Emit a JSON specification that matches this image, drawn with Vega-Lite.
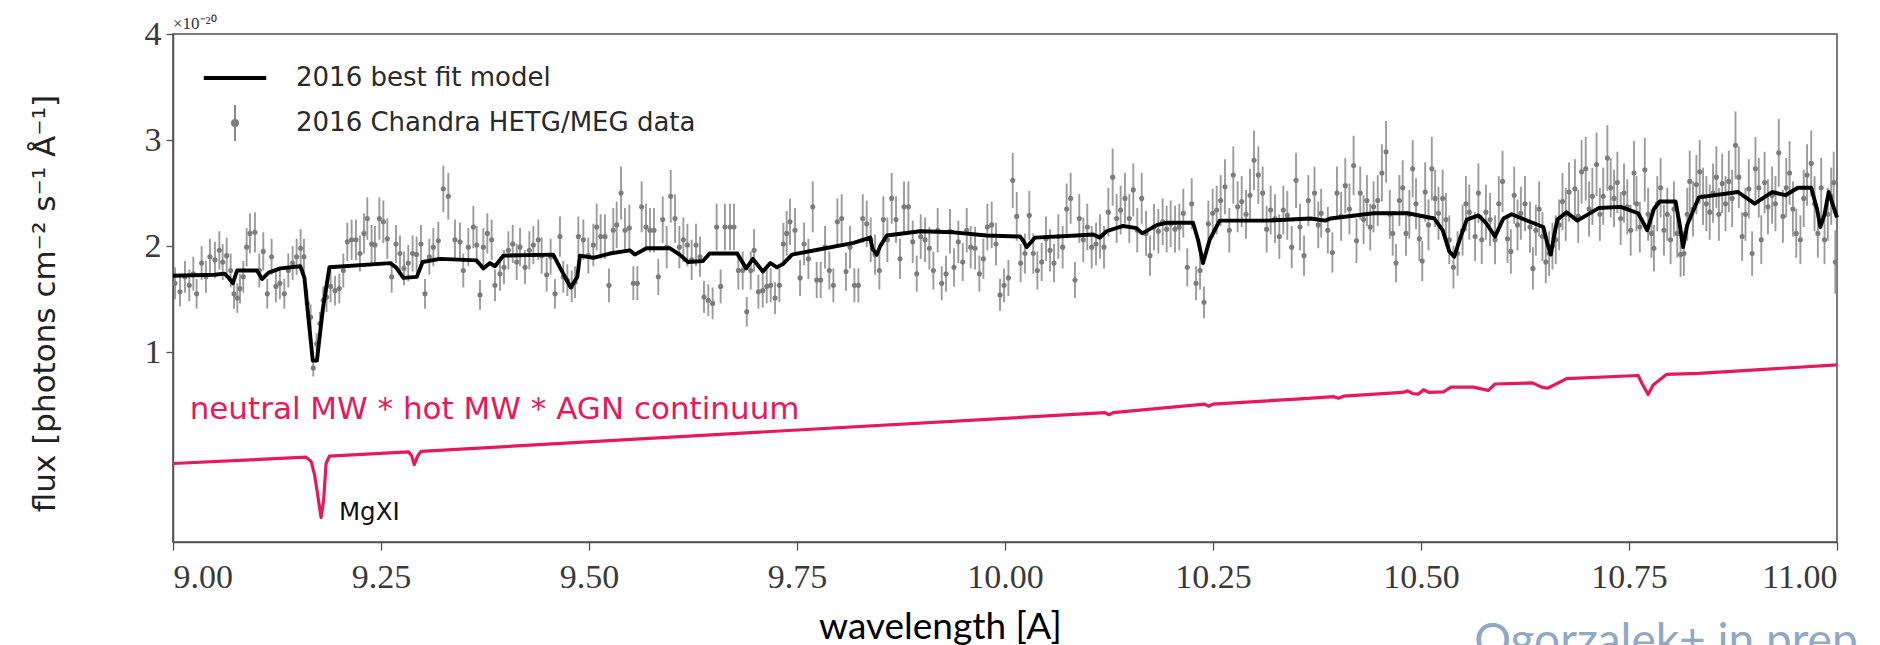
{
"$schema":"https://vega.github.io/schema/vega-lite/v6.json",
"width":1664,"height":508,
"autosize":{"type":"none"},
"padding":{"left":173,"top":34,"right":43,"bottom":103},
"background":"white",
"config":{"view":{"stroke":"#505050","strokeWidth":1.5},"font":"DejaVu Sans",
"axis":{"grid":false,"domainColor":"#505050","domainWidth":1.5,"tickColor":"#505050","tickWidth":1.3,"labelFont":"Liberation Serif","labelFontSize":34,"labelColor":"#3a3a3a","titleFontWeight":"normal","titleColor":"#111"}},
"datasets":{
"pts":[
{"w":9.0024,"f":1.65,"e":0.15},{"w":9.0084,"f":1.57,"e":0.14},{"w":9.0144,"f":1.71,"e":0.15},{"w":9.0196,"f":1.63,"e":0.15},{"w":9.0244,"f":1.74,"e":0.16},{"w":9.0284,"f":1.55,"e":0.14},{"w":9.0344,"f":1.84,"e":0.16},{"w":9.0396,"f":1.71,"e":0.15},{"w":9.0444,"f":1.9,"e":0.17},{"w":9.0504,"f":1.87,"e":0.17},{"w":9.0557,"f":1.96,"e":0.18},{"w":9.0597,"f":1.85,"e":0.17},{"w":9.0645,"f":1.91,"e":0.17},{"w":9.0693,"f":1.77,"e":0.16},{"w":9.0733,"f":1.55,"e":0.14},{"w":9.0773,"f":1.51,"e":0.14},{"w":9.0805,"f":1.6,"e":0.14},{"w":9.0845,"f":1.71,"e":0.15},{"w":9.0885,"f":1.99,"e":0.18},{"w":9.0925,"f":2.12,"e":0.19},{"w":9.0985,"f":2.13,"e":0.19},{"w":9.1037,"f":1.77,"e":0.16},{"w":9.1085,"f":1.95,"e":0.18},{"w":9.1133,"f":1.55,"e":0.14},{"w":9.1185,"f":1.9,"e":0.17},{"w":9.1237,"f":1.62,"e":0.15},{"w":9.1285,"f":1.65,"e":0.15},{"w":9.1338,"f":1.55,"e":0.14},{"w":9.1386,"f":1.77,"e":0.16},{"w":9.1438,"f":1.84,"e":0.16},{"w":9.1486,"f":1.9,"e":0.17},{"w":9.1534,"f":1.98,"e":0.18},{"w":9.1574,"f":1.9,"e":0.17},{"w":9.1614,"f":1.46,"e":0.13},{"w":9.1654,"f":1.33,"e":0.12},{"w":9.1686,"f":0.85,"e":0.08},{"w":9.1726,"f":1.08,"e":0.1},{"w":9.1766,"f":1.27,"e":0.11},{"w":9.1806,"f":1.49,"e":0.13},{"w":9.1846,"f":1.52,"e":0.14},{"w":9.1894,"f":1.62,"e":0.15},{"w":9.1947,"f":1.58,"e":0.14},{"w":9.1999,"f":1.6,"e":0.14},{"w":9.2047,"f":1.77,"e":0.16},{"w":9.2095,"f":2.04,"e":0.18},{"w":9.2147,"f":2.06,"e":0.19},{"w":9.2199,"f":2.06,"e":0.19},{"w":9.2247,"f":1.93,"e":0.17},{"w":9.2295,"f":2.12,"e":0.19},{"w":9.2335,"f":2.26,"e":0.2},{"w":9.2387,"f":2.02,"e":0.18},{"w":9.2427,"f":2.01,"e":0.18},{"w":9.248,"f":2.26,"e":0.2},{"w":9.2528,"f":2.23,"e":0.2},{"w":9.2576,"f":2.07,"e":0.19},{"w":9.2628,"f":1.71,"e":0.15},{"w":9.268,"f":2.02,"e":0.18},{"w":9.2728,"f":1.93,"e":0.17},{"w":9.2776,"f":1.79,"e":0.16},{"w":9.2828,"f":1.84,"e":0.17},{"w":9.288,"f":1.93,"e":0.17},{"w":9.2928,"f":1.92,"e":0.17},{"w":9.298,"f":2.02,"e":0.18},{"w":9.3029,"f":1.55,"e":0.14},{"w":9.3081,"f":1.9,"e":0.17},
{"w":9.3129,"f":1.99,"e":0.18},{"w":9.3189,"f":2.05,"e":0.18},{"w":9.3249,"f":2.54,"e":0.22},{"w":9.3309,"f":2.47,"e":0.22},{"w":9.3389,"f":2.06,"e":0.19},{"w":9.3449,"f":2.04,"e":0.18},{"w":9.3489,"f":1.77,"e":0.16},{"w":9.355,"f":1.99,"e":0.18},{"w":9.361,"f":2.18,"e":0.2},{"w":9.365,"f":2.01,"e":0.18},{"w":9.369,"f":1.54,"e":0.14},{"w":9.373,"f":1.99,"e":0.18},{"w":9.3778,"f":2.12,"e":0.19},{"w":9.383,"f":2.06,"e":0.19},{"w":9.387,"f":1.63,"e":0.15},{"w":9.393,"f":1.74,"e":0.16},{"w":9.3978,"f":1.8,"e":0.16},{"w":9.4031,"f":1.96,"e":0.18},{"w":9.4083,"f":2.02,"e":0.18},{"w":9.4131,"f":1.85,"e":0.17},{"w":9.4171,"f":1.99,"e":0.18},{"w":9.4231,"f":1.8,"e":0.16},{"w":9.4283,"f":1.96,"e":0.18},{"w":9.4331,"f":2.01,"e":0.18},{"w":9.4391,"f":2.06,"e":0.19},{"w":9.4431,"f":1.91,"e":0.17},{"w":9.4491,"f":1.73,"e":0.16},{"w":9.4539,"f":1.9,"e":0.17},{"w":9.4591,"f":1.55,"e":0.14},{"w":9.4651,"f":2.09,"e":0.19},{"w":9.4691,"f":1.71,"e":0.15},{"w":9.474,"f":1.68,"e":0.15},{"w":9.4792,"f":1.62,"e":0.15},{"w":9.4832,"f":1.66,"e":0.15},{"w":9.4872,"f":2.09,"e":0.19},{"w":9.4932,"f":2.06,"e":0.19},{"w":9.4992,"f":1.91,"e":0.17},{"w":9.5052,"f":2.01,"e":0.2},{"w":9.5092,"f":2.18,"e":0.22},{"w":9.514,"f":2.09,"e":0.21},{"w":9.5192,"f":2.09,"e":0.21},{"w":9.524,"f":1.63,"e":0.16},{"w":9.5292,"f":2.15,"e":0.21},{"w":9.5333,"f":2.2,"e":0.22},{"w":9.5385,"f":2.5,"e":0.25},{"w":9.5433,"f":2.15,"e":0.21},{"w":9.5485,"f":2.17,"e":0.22},{"w":9.5533,"f":1.65,"e":0.16},{"w":9.5581,"f":1.65,"e":0.16},{"w":9.5633,"f":2.37,"e":0.24},{"w":9.5685,"f":2.18,"e":0.22},{"w":9.5733,"f":2.15,"e":0.21},{"w":9.5781,"f":2.15,"e":0.21},{"w":9.5833,"f":1.71,"e":0.17},{"w":9.5886,"f":2.25,"e":0.22},{"w":9.5934,"f":1.99,"e":0.2},{"w":9.5982,"f":2.47,"e":0.25},{"w":9.6034,"f":2.26,"e":0.23},{"w":9.6086,"f":1.99,"e":0.2},{"w":9.6134,"f":2.06,"e":0.21},{"w":9.6182,"f":2.01,"e":0.2},{"w":9.6234,"f":1.87,"e":0.19},{"w":9.6286,"f":2.01,"e":0.2},{"w":9.6334,"f":1.9,"e":0.19},{"w":9.6382,"f":1.52,"e":0.15},{"w":9.6434,"f":1.49,"e":0.15},{"w":9.6486,"f":1.46,"e":0.15},{"w":9.6534,"f":2.18,"e":0.22},{"w":9.6582,"f":1.62,"e":0.16},{"w":9.6634,"f":2.18,"e":0.22},
{"w":9.6695,"f":2.18,"e":0.22},{"w":9.6743,"f":2.18,"e":0.22},{"w":9.6795,"f":1.77,"e":0.18},{"w":9.6847,"f":1.77,"e":0.18},{"w":9.6896,"f":1.38,"e":0.14},{"w":9.6944,"f":1.77,"e":0.18},{"w":9.6984,"f":1.96,"e":0.2},{"w":9.7036,"f":1.57,"e":0.16},{"w":9.7088,"f":1.58,"e":0.16},{"w":9.7136,"f":1.62,"e":0.16},{"w":9.7184,"f":1.63,"e":0.16},{"w":9.7236,"f":1.51,"e":0.15},{"w":9.7288,"f":1.63,"e":0.16},{"w":9.7336,"f":2.02,"e":0.2},{"w":9.7376,"f":2.12,"e":0.21},{"w":9.7416,"f":2.23,"e":0.22},{"w":9.7476,"f":2.15,"e":0.21},{"w":9.7537,"f":1.7,"e":0.17},{"w":9.7585,"f":2.02,"e":0.2},{"w":9.7637,"f":1.88,"e":0.19},{"w":9.7689,"f":2.37,"e":0.24},{"w":9.7737,"f":1.68,"e":0.17},{"w":9.7785,"f":1.68,"e":0.17},{"w":9.7837,"f":1.99,"e":0.2},{"w":9.7889,"f":1.77,"e":0.18},{"w":9.7937,"f":1.63,"e":0.16},{"w":9.7985,"f":2.23,"e":0.22},{"w":9.8037,"f":2.26,"e":0.23},{"w":9.8089,"f":1.76,"e":0.18},{"w":9.8137,"f":1.99,"e":0.2},{"w":9.819,"f":1.63,"e":0.16},{"w":9.8238,"f":1.63,"e":0.16},{"w":9.829,"f":2.26,"e":0.23},{"w":9.8338,"f":2.21,"e":0.22},{"w":9.8386,"f":2.06,"e":0.21},{"w":9.8438,"f":1.92,"e":0.19},{"w":9.849,"f":1.77,"e":0.18},{"w":9.8538,"f":2.25,"e":0.22},{"w":9.8586,"f":2.06,"e":0.21},{"w":9.8638,"f":2.45,"e":0.24},{"w":9.869,"f":2.25,"e":0.22},{"w":9.8738,"f":1.88,"e":0.19},{"w":9.8786,"f":2.37,"e":0.24},{"w":9.8839,"f":2.37,"e":0.24},{"w":9.8891,"f":2.04,"e":0.2},{"w":9.8939,"f":1.74,"e":0.17},{"w":9.8987,"f":2.09,"e":0.21},{"w":9.9039,"f":2.06,"e":0.21},{"w":9.9091,"f":1.98,"e":0.2},{"w":9.9139,"f":1.77,"e":0.18},{"w":9.9191,"f":2.15,"e":0.21},{"w":9.9239,"f":1.65,"e":0.16},{"w":9.9291,"f":1.74,"e":0.17},{"w":9.9339,"f":2.14,"e":0.21},{"w":9.9387,"f":1.8,"e":0.18},{"w":9.9439,"f":2.04,"e":0.2},{"w":9.9492,"f":1.85,"e":0.18},{"w":9.954,"f":2.15,"e":0.21},{"w":9.9588,"f":1.99,"e":0.2},{"w":9.964,"f":1.98,"e":0.2},{"w":9.9692,"f":1.74,"e":0.17},{"w":9.974,"f":1.88,"e":0.19},{"w":9.9788,"f":2.18,"e":0.22},{"w":9.984,"f":2.2,"e":0.22},{"w":9.9892,"f":2.02,"e":0.2},{"w":9.994,"f":1.54,"e":0.15},{"w":9.9988,"f":1.63,"e":0.16},{"w":10.0041,"f":1.7,"e":0.17},{"w":10.0093,"f":2.62,"e":0.26},{"w":10.0141,"f":2.28,"e":0.23},
{"w":10.0188,"f":1.84,"e":0.18},{"w":10.024,"f":1.93,"e":0.19},{"w":10.0292,"f":2.29,"e":0.23},{"w":10.034,"f":1.93,"e":0.19},{"w":10.0389,"f":1.77,"e":0.18},{"w":10.0441,"f":1.85,"e":0.18},{"w":10.0493,"f":2.07,"e":0.21},{"w":10.0541,"f":1.96,"e":0.2},{"w":10.0589,"f":1.84,"e":0.18},{"w":10.0641,"f":2.09,"e":0.21},{"w":10.0693,"f":1.99,"e":0.2},{"w":10.0741,"f":2.35,"e":0.24},{"w":10.0789,"f":2.45,"e":0.24},{"w":10.0841,"f":1.68,"e":0.17},{"w":10.0893,"f":2.26,"e":0.23},{"w":10.0941,"f":2.06,"e":0.21},{"w":10.0989,"f":2.18,"e":0.22},{"w":10.1042,"f":1.99,"e":0.2},{"w":10.1094,"f":2.02,"e":0.2},{"w":10.1142,"f":2.09,"e":0.21},{"w":10.119,"f":1.99,"e":0.2},{"w":10.1242,"f":2.32,"e":0.23},{"w":10.1294,"f":2.65,"e":0.27},{"w":10.1342,"f":2.26,"e":0.23},{"w":10.139,"f":2.34,"e":0.23},{"w":10.1442,"f":2.45,"e":0.24},{"w":10.1494,"f":2.26,"e":0.23},{"w":10.1542,"f":2.53,"e":0.25},{"w":10.159,"f":2.15,"e":0.21},{"w":10.1643,"f":2.45,"e":0.24},{"w":10.1695,"f":2.12,"e":0.21},{"w":10.1743,"f":1.91,"e":0.19},{"w":10.1791,"f":2.18,"e":0.22},{"w":10.1843,"f":2.14,"e":0.21},{"w":10.1895,"f":2.23,"e":0.22},{"w":10.1943,"f":2.16,"e":0.22},{"w":10.1991,"f":2.21,"e":0.22},{"w":10.2043,"f":2.16,"e":0.22},{"w":10.2095,"f":2.18,"e":0.22},{"w":10.2143,"f":2.31,"e":0.23},{"w":10.2191,"f":1.8,"e":0.18},{"w":10.2244,"f":2.4,"e":0.24},{"w":10.2296,"f":1.65,"e":0.16},{"w":10.2344,"f":1.77,"e":0.18},{"w":10.2392,"f":1.47,"e":0.15},{"w":10.2444,"f":2.21,"e":0.22},{"w":10.2496,"f":2.31,"e":0.23},{"w":10.2544,"f":2.34,"e":0.23},{"w":10.2592,"f":2.43,"e":0.24},{"w":10.2644,"f":2.56,"e":0.26},{"w":10.2696,"f":2.15,"e":0.21},{"w":10.2744,"f":2.67,"e":0.27},{"w":10.2796,"f":2.37,"e":0.24},{"w":10.2845,"f":2.42,"e":0.24},{"w":10.2897,"f":2.3,"e":0.23},{"w":10.2945,"f":2.48,"e":0.25},{"w":10.2993,"f":2.81,"e":0.28},{"w":10.3045,"f":2.67,"e":0.27},{"w":10.3097,"f":2.5,"e":0.25},{"w":10.3145,"f":2.16,"e":0.22},{"w":10.3193,"f":2.34,"e":0.23},{"w":10.3245,"f":2.26,"e":0.23},{"w":10.3297,"f":2.09,"e":0.21},{"w":10.3345,"f":2.34,"e":0.23},{"w":10.3393,"f":2.29,"e":0.23},{"w":10.3446,"f":1.99,"e":0.2},{"w":10.3498,"f":2.62,"e":0.26},{"w":10.3546,"f":2.18,"e":0.22},{"w":10.3594,"f":1.91,"e":0.19},{"w":10.3646,"f":2.43,"e":0.24},
{"w":10.372,"f":2.5,"e":0.25},{"w":10.3765,"f":2.2,"e":0.22},{"w":10.38,"f":2.31,"e":0.23},{"w":10.388,"f":2.15,"e":0.22},{"w":10.3935,"f":1.94,"e":0.19},{"w":10.399,"f":2.5,"e":0.25},{"w":10.404,"f":2.28,"e":0.23},{"w":10.409,"f":2.57,"e":0.26},{"w":10.414,"f":2.35,"e":0.24},{"w":10.419,"f":2.76,"e":0.28},{"w":10.4225,"f":2.05,"e":0.21},{"w":10.427,"f":2.5,"e":0.25},{"w":10.431,"f":2.25,"e":0.23},{"w":10.435,"f":2.43,"e":0.24},{"w":10.439,"f":2.18,"e":0.22},{"w":10.443,"f":2.37,"e":0.24},{"w":10.448,"f":2.43,"e":0.24},{"w":10.453,"f":2.69,"e":0.27},{"w":10.458,"f":2.89,"e":0.29},{"w":10.4625,"f":2.3,"e":0.23},{"w":10.466,"f":2.12,"e":0.21},{"w":10.47,"f":1.84,"e":0.18},{"w":10.474,"f":2.43,"e":0.24},{"w":10.478,"f":2.55,"e":0.26},{"w":10.482,"f":2.12,"e":0.21},{"w":10.486,"f":2.3,"e":0.23},{"w":10.49,"f":2.73,"e":0.27},{"w":10.494,"f":2.4,"e":0.24},{"w":10.498,"f":2.07,"e":0.21},{"w":10.5015,"f":1.86,"e":0.19},{"w":10.505,"f":2.51,"e":0.28},{"w":10.509,"f":2.2,"e":0.24},{"w":10.513,"f":2.73,"e":0.3},{"w":10.517,"f":2.45,"e":0.27},{"w":10.521,"f":2.31,"e":0.25},{"w":10.526,"f":2.45,"e":0.27},{"w":10.53,"f":2.25,"e":0.25},{"w":10.534,"f":2.06,"e":0.23},{"w":10.539,"f":1.8,"e":0.2},{"w":10.544,"f":1.93,"e":0.21},{"w":10.55,"f":2.15,"e":0.24},{"w":10.554,"f":2.4,"e":0.26},{"w":10.558,"f":2.32,"e":0.26},{"w":10.565,"f":2.09,"e":0.23},{"w":10.569,"f":2.5,"e":0.28},{"w":10.573,"f":2.06,"e":0.23},{"w":10.578,"f":2.32,"e":0.26},{"w":10.583,"f":2.25,"e":0.25},{"w":10.589,"f":2.06,"e":0.23},{"w":10.5935,"f":2.4,"e":0.26},{"w":10.598,"f":2.61,"e":0.29},{"w":10.604,"f":2.07,"e":0.23},{"w":10.608,"f":1.95,"e":0.21},{"w":10.612,"f":2.48,"e":0.27},{"w":10.616,"f":2.2,"e":0.24},{"w":10.62,"f":2.31,"e":0.25},{"w":10.625,"f":2.4,"e":0.26},{"w":10.631,"f":2.18,"e":0.24},{"w":10.6345,"f":1.79,"e":0.2},{"w":10.638,"f":2.15,"e":0.24},{"w":10.642,"f":2.35,"e":0.26},{"w":10.646,"f":2.09,"e":0.23},{"w":10.65,"f":1.85,"e":0.2},{"w":10.654,"f":1.93,"e":0.21},{"w":10.658,"f":2.0,"e":0.22},{"w":10.662,"f":2.06,"e":0.23},{"w":10.666,"f":2.2,"e":0.24},{"w":10.67,"f":2.42,"e":0.27},{"w":10.674,"f":2.3,"e":0.25},{"w":10.678,"f":2.51,"e":0.28},{"w":10.685,"f":2.54,"e":0.28},{"w":10.689,"f":2.28,"e":0.25},{"w":10.693,"f":2.7,"e":0.3},{"w":10.698,"f":2.73,"e":0.3},{"w":10.702,"f":2.35,"e":0.26},{"w":10.706,"f":2.47,"e":0.27},{"w":10.711,"f":2.77,"e":0.3},{"w":10.715,"f":2.3,"e":0.25},{"w":10.719,"f":2.47,"e":0.27},{"w":10.724,"f":2.83,"e":0.31},{"w":10.728,"f":2.55,"e":0.28},{"w":10.732,"f":2.45,"e":0.27},{"w":10.736,"f":2.6,"e":0.29},{"w":10.74,"f":2.26,"e":0.25},{"w":10.744,"f":2.5,"e":0.28},{"w":10.748,"f":2.37,"e":0.26},{"w":10.752,"f":2.15,"e":0.24},{"w":10.756,"f":2.69,"e":0.3},{"w":10.759,"f":2.4,"e":0.26},{"w":10.763,"f":2.18,"e":0.24},{"w":10.769,"f":2.72,"e":0.3},{"w":10.773,"f":2.3,"e":0.25},{"w":10.777,"f":2.12,"e":0.23},{"w":10.78,"f":1.98,"e":0.22},{"w":10.784,"f":2.4,"e":0.26},{"w":10.788,"f":2.55,"e":0.28},{"w":10.792,"f":2.15,"e":0.24},{"w":10.796,"f":2.3,"e":0.25},{"w":10.8,"f":2.06,"e":0.23},{"w":10.804,"f":2.35,"e":0.26},{"w":10.808,"f":2.12,"e":0.23},{"w":10.812,"f":1.92,"e":0.21},{"w":10.816,"f":1.93,"e":0.21},{"w":10.82,"f":2.3,"e":0.25},{"w":10.823,"f":2.61,"e":0.29},{"w":10.827,"f":2.35,"e":0.26},{"w":10.831,"f":2.58,"e":0.28},{"w":10.835,"f":2.7,"e":0.3},{"w":10.839,"f":2.47,"e":0.27},{"w":10.843,"f":2.4,"e":0.26},{"w":10.847,"f":2.32,"e":0.26},{"w":10.851,"f":2.5,"e":0.28},{"w":10.855,"f":2.65,"e":0.29},{"w":10.858,"f":2.3,"e":0.25},{"w":10.862,"f":2.59,"e":0.28},{"w":10.866,"f":2.4,"e":0.26},{"w":10.87,"f":2.61,"e":0.29},{"w":10.874,"f":2.45,"e":0.27},{"w":10.878,"f":2.95,"e":0.32},{"w":10.882,"f":2.65,"e":0.29},{"w":10.886,"f":2.09,"e":0.23},{"w":10.89,"f":2.3,"e":0.25},{"w":10.894,"f":2.54,"e":0.28},{"w":10.898,"f":1.93,"e":0.21},{"w":10.902,"f":2.73,"e":0.3},{"w":10.906,"f":2.55,"e":0.28},{"w":10.909,"f":2.06,"e":0.23},{"w":10.913,"f":2.6,"e":0.29},{"w":10.917,"f":2.37,"e":0.26},{"w":10.922,"f":2.48,"e":0.27},{"w":10.926,"f":2.4,"e":0.26},{"w":10.93,"f":2.88,"e":0.32},{"w":10.935,"f":2.28,"e":0.25},{"w":10.939,"f":2.55,"e":0.28},{"w":10.943,"f":2.69,"e":0.3},{"w":10.947,"f":2.35,"e":0.26},{"w":10.951,"f":2.12,"e":0.23},{"w":10.956,"f":2.06,"e":0.23},{"w":10.96,"f":2.45,"e":0.27},{"w":10.964,"f":2.67,"e":0.29},{"w":10.969,"f":2.78,"e":0.31},{"w":10.973,"f":2.4,"e":0.26},{"w":10.977,"f":2.12,"e":0.23},{"w":10.981,"f":2.55,"e":0.28},{"w":10.985,"f":2.06,"e":0.23},{"w":10.989,"f":2.3,"e":0.25},{"w":10.993,"f":2.47,"e":0.27},{"w":10.996,"f":2.6,"e":0.29},{"w":10.998,"f":1.85,"e":0.3}
],
"model":[
{"w":9.0,"f":1.72},{"w":9.05,"f":1.73},{"w":9.062,"f":1.74},{"w":9.067,"f":1.7},{"w":9.072,"f":1.65},{"w":9.077,"f":1.77},{"w":9.101,"f":1.77},{"w":9.107,"f":1.69},{"w":9.115,"f":1.75},{"w":9.129,"f":1.79},{"w":9.153,"f":1.81},{"w":9.158,"f":1.7},{"w":9.161,"f":1.46},{"w":9.168,"f":0.92},{"w":9.173,"f":0.92},{"w":9.18,"f":1.4},{"w":9.188,"f":1.8},{"w":9.261,"f":1.84},{"w":9.268,"f":1.8},{"w":9.277,"f":1.7},{"w":9.293,"f":1.71},{"w":9.3,"f":1.85},{"w":9.321,"f":1.88},{"w":9.365,"f":1.865},{"w":9.373,"f":1.79},{"w":9.381,"f":1.84},{"w":9.387,"f":1.81},{"w":9.397,"f":1.91},{"w":9.457,"f":1.92},{"w":9.469,"f":1.74},{"w":9.478,"f":1.61},{"w":9.486,"f":1.71},{"w":9.489,"f":1.91},{"w":9.505,"f":1.89},{"w":9.525,"f":1.93},{"w":9.549,"f":1.96},{"w":9.555,"f":1.92},{"w":9.569,"f":1.98},{"w":9.597,"f":1.98},{"w":9.609,"f":1.92},{"w":9.619,"f":1.85},{"w":9.637,"f":1.86},{"w":9.645,"f":1.93},{"w":9.678,"f":1.93},{"w":9.689,"f":1.79},{"w":9.697,"f":1.88},{"w":9.709,"f":1.76},{"w":9.718,"f":1.84},{"w":9.726,"f":1.8},{"w":9.733,"f":1.83},{"w":9.744,"f":1.92},{"w":9.778,"f":1.97},{"w":9.818,"f":2.03},{"w":9.838,"f":2.08},{"w":9.841,"f":1.97},{"w":9.846,"f":1.92},{"w":9.85,"f":2.0},{"w":9.858,"f":2.1},{"w":9.898,"f":2.14},{"w":9.938,"f":2.13},{"w":9.978,"f":2.1},{"w":10.018,"f":2.09},{"w":10.022,"f":2.05},{"w":10.026,"f":1.99},{"w":10.036,"f":2.08},{"w":10.086,"f":2.1},{"w":10.106,"f":2.11},{"w":10.114,"f":2.08},{"w":10.122,"f":2.14},{"w":10.142,"f":2.19},{"w":10.158,"f":2.17},{"w":10.165,"f":2.12},{"w":10.183,"f":2.2},{"w":10.195,"f":2.22},{"w":10.226,"f":2.22},{"w":10.232,"f":2.06},{"w":10.238,"f":1.84},{"w":10.246,"f":2.06},{"w":10.258,"f":2.24},{"w":10.313,"f":2.24},{"w":10.367,"f":2.26},{"w":10.385,"f":2.24},{"w":10.391,"f":2.26},{"w":10.443,"f":2.31},{"w":10.484,"f":2.31},{"w":10.516,"f":2.26},{"w":10.526,"f":2.15},{"w":10.534,"f":1.95},{"w":10.54,"f":1.9},{"w":10.546,"f":2.05},{"w":10.555,"f":2.25},{"w":10.569,"f":2.29},{"w":10.578,"f":2.22},{"w":10.589,"f":2.09},{"w":10.599,"f":2.26},{"w":10.609,"f":2.3},{"w":10.631,"f":2.23},{"w":10.647,"f":2.18},{"w":10.652,"f":2.02},{"w":10.656,"f":1.92},{"w":10.66,"f":2.1},{"w":10.664,"f":2.25},{"w":10.675,"f":2.32},{"w":10.688,"f":2.24},{"w":10.714,"f":2.36},{"w":10.74,"f":2.37},{"w":10.761,"f":2.31},{"w":10.772,"f":2.15},{"w":10.78,"f":2.35},{"w":10.787,"f":2.42},{"w":10.806,"f":2.42},{"w":10.811,"f":2.2},{"w":10.815,"f":1.99},{"w":10.82,"f":2.2},{"w":10.834,"f":2.46},{"w":10.881,"f":2.51},{"w":10.901,"f":2.4},{"w":10.922,"f":2.51},{"w":10.938,"f":2.48},{"w":10.953,"f":2.55},{"w":10.969,"f":2.55},{"w":10.976,"f":2.35},{"w":10.98,"f":2.18},{"w":10.985,"f":2.3},{"w":10.99,"f":2.51},{"w":11.0,"f":2.27}
],
"red":[
{"w":9.0,"f":-0.05},{"w":9.16,"f":0.01},{"w":9.166,"f":-0.03},{"w":9.17,"f":-0.15},{"w":9.174,"f":-0.35},{"w":9.178,"f":-0.56},{"w":9.181,"f":-0.4},{"w":9.184,"f":-0.05},{"w":9.188,"f":0.02},{"w":9.283,"f":0.06},{"w":9.287,"f":0.02},{"w":9.29,"f":-0.06},{"w":9.294,"f":0.02},{"w":9.298,"f":0.065},{"w":10.12,"f":0.43},{"w":10.125,"f":0.41},{"w":10.13,"f":0.43},{"w":10.24,"f":0.51},{"w":10.245,"f":0.49},{"w":10.25,"f":0.51},{"w":10.355,"f":0.56},{"w":10.395,"f":0.58},{"w":10.401,"f":0.565},{"w":10.407,"f":0.585},{"w":10.478,"f":0.62},{"w":10.484,"f":0.635},{"w":10.49,"f":0.61},{"w":10.497,"f":0.605},{"w":10.503,"f":0.645},{"w":10.51,"f":0.62},{"w":10.527,"f":0.625},{"w":10.536,"f":0.67},{"w":10.563,"f":0.67},{"w":10.581,"f":0.64},{"w":10.589,"f":0.7},{"w":10.634,"f":0.71},{"w":10.645,"f":0.67},{"w":10.652,"f":0.66},{"w":10.66,"f":0.69},{"w":10.675,"f":0.75},{"w":10.761,"f":0.78},{"w":10.766,"f":0.7},{"w":10.773,"f":0.6},{"w":10.779,"f":0.69},{"w":10.795,"f":0.79},{"w":10.834,"f":0.8},{"w":11.0,"f":0.88}
],
"notes":[
{"w":9.0,"f":4.0,"t":"×10⁻²⁰","k":"scale"},
{"w":9.02,"f":0.453,"t":"neutral MW * hot MW * AGN continuum","k":"red"},
{"w":9.1995,"f":-0.52,"t":"MgXI","k":"ion"},
{"w":10.564,"f":-1.868,"t":"Ogorzalek+ in prep","k":"credit"}
]},
"layer":[
{"data":{"name":"pts"},"mark":{"type":"errorbar","color":"#9c9c9c","thickness":1.9},
 "encoding":{
 "x":{"field":"w","type":"quantitative","scale":{"domain":[9,11],"nice":false,"zero":false},
 "axis":{"values":[9,9.25,9.5,9.75,10,10.25,10.5,10.75,11],"format":".2f","tickSize":8,"labelPadding":10,"title":"wavelength [A]","titleFont":"Lato","titleFontSize":37,"titleColor":"#000","titleX":767,"titleY":85,"titleBaseline":"middle","titleAlign":"center"}},
 "y":{"field":"f","type":"quantitative","scale":{"domain":[-0.79,4],"nice":false,"zero":false},
 "axis":{"values":[1,2,3,4],"format":"d","tickSize":7,"labelPadding":5,"title":"flux [photons cm⁻² s⁻¹ Å⁻¹]","titleFont":"DejaVu Sans","titleFontSize":31,"titleColor":"#222","titleX":-128,"titleY":269,"titleAngle":-90,"titleAlign":"center","titleBaseline":"middle"}},
 "yError":{"field":"e"}}},
{"data":{"name":"pts"},"mark":{"type":"circle","size":26,"opacity":1},
 "encoding":{"x":{"field":"w","type":"quantitative"},"y":{"field":"f","type":"quantitative"},"color":{"datum":"2016 Chandra HETG/MEG data","type":"nominal"}}},
{"data":{"name":"model"},"mark":{"type":"line","strokeWidth":3.9,"strokeJoin":"round"},
 "encoding":{"x":{"field":"w","type":"quantitative"},"y":{"field":"f","type":"quantitative"},
 "color":{"datum":"2016 best fit model","type":"nominal",
  "scale":{"domain":["2016 best fit model","2016 Chandra HETG/MEG data"],"range":["#000000","#7c7c7c"]},
  "legend":{"title":null,"orient":"none","legendX":49,"legendY":31,"padding":0,"symbolSize":3900,"rowPadding":10,"labelOffset":48,"labelLimit":0,"labelFont":"DejaVu Sans","labelFontSize":26,"labelColor":"#2a2a2a",
   "encode":{"symbols":{"update":{
    "shape":{"signal":"datum.value === '2016 best fit model' ? 'stroke' : 'M0,-0.58V0.58M-0.1,0A0.1,0.1 0 1 0 0.1,0A0.1,0.1 0 1 0 -0.1,0Z'"},
    "strokeWidth":{"signal":"datum.value === '2016 best fit model' ? 3.9 : 1.8"},
    "stroke":{"signal":"datum.value === '2016 best fit model' ? '#000000' : '#8a8a8a'"},
    "fill":{"signal":"datum.value === '2016 best fit model' ? 'transparent' : '#7c7c7c'"},
    "opacity":{"value":1}}}}}}}},
{"data":{"name":"red"},"mark":{"type":"line","color":"#E8195B","strokeWidth":3.2,"strokeJoin":"round"},
 "encoding":{"x":{"field":"w","type":"quantitative"},"y":{"field":"f","type":"quantitative"}}},
{"data":{"name":"notes"},"transform":[{"filter":"datum.k === 'scale'"}],
 "mark":{"type":"text","font":"Liberation Serif","fontSize":17,"color":"#333","align":"left","baseline":"middle","dy":-10},
 "encoding":{"x":{"field":"w","type":"quantitative"},"y":{"field":"f","type":"quantitative"},"text":{"field":"t"}}},
{"data":{"name":"notes"},"transform":[{"filter":"datum.k === 'red'"}],
 "mark":{"type":"text","font":"DejaVu Sans","fontSize":31,"color":"#E8195B","align":"left","baseline":"middle"},
 "encoding":{"x":{"field":"w","type":"quantitative"},"y":{"field":"f","type":"quantitative"},"text":{"field":"t"}}},
{"data":{"name":"notes"},"transform":[{"filter":"datum.k === 'ion'"}],
 "mark":{"type":"text","font":"DejaVu Sans","fontSize":24.5,"color":"#111","align":"left","baseline":"middle"},
 "encoding":{"x":{"field":"w","type":"quantitative"},"y":{"field":"f","type":"quantitative"},"text":{"field":"t"}}},
{"data":{"name":"notes"},"transform":[{"filter":"datum.k === 'credit'"}],
 "mark":{"type":"text","font":"Lato","fontSize":46,"color":"#8FA8C6","align":"left","baseline":"alphabetic"},
 "encoding":{"x":{"field":"w","type":"quantitative"},"y":{"field":"f","type":"quantitative"},"text":{"field":"t"}}}
]
}
